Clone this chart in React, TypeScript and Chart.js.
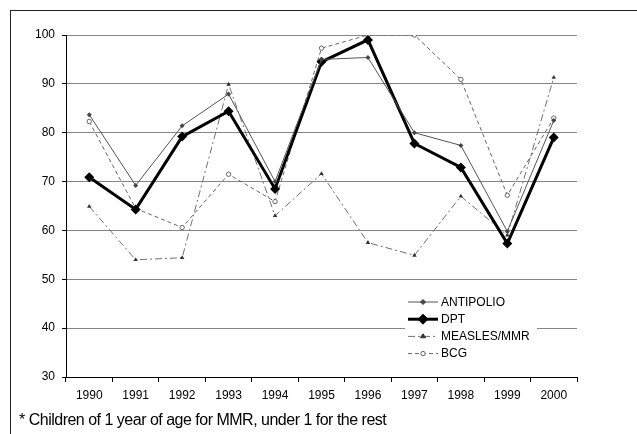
import React, { useEffect, useRef } from "react";
import { Chart, registerables } from "chart.js";

Chart.register(...registerables);

const years = ["1990", "1991", "1992", "1993", "1994", "1995", "1996", "1997", "1998", "1999", "2000"];
const antipolio = [83.7, 69.2, 81.4, 87.9, 70.0, 95.0, 95.4, 80.0, 77.4, 59.8, 82.5];
const dpt = [70.9, 64.3, 79.2, 84.4, 68.5, 94.5, 99.0, 77.8, 72.9, 57.3, 79.0];
const measles = [64.9, 54.0, 54.4, 89.9, 63.0, 71.6, 57.5, 54.9, 67.0, 59.0, 91.3];
const bcg = [82.3, 64.5, 60.6, 71.5, 65.9, 97.3, 100, 100, 90.9, 67.2, 83.0];
const seriesNames = ["ANTIPOLIO", "DPT", "MEASLES/MMR", "BCG"];
const footnote = "* Children of 1 year of age for MMR, under 1 for the rest";

const FONT = "'Liberation Sans', Arial, sans-serif";

function drawMarker(ctx: CanvasRenderingContext2D, style: string, x: number, y: number, r: number, fill: string, stroke: string) {
  ctx.save();
  ctx.setLineDash([]);
  ctx.beginPath();
  if (style === "rectRot") {
    ctx.moveTo(x, y - r);
    ctx.lineTo(x + r, y);
    ctx.lineTo(x, y + r);
    ctx.lineTo(x - r, y);
    ctx.closePath();
  } else if (style === "triangle") {
    const h = r * 1.5;
    ctx.moveTo(x, y - h * 0.66);
    ctx.lineTo(x + r, y + h * 0.34);
    ctx.lineTo(x - r, y + h * 0.34);
    ctx.closePath();
  } else {
    ctx.arc(x, y, r, 0, Math.PI * 2);
  }
  ctx.fillStyle = fill;
  ctx.fill();
  ctx.lineWidth = 1;
  ctx.strokeStyle = stroke;
  ctx.stroke();
  ctx.restore();
}

const legendPlugin = {
  id: "insideLegend",
  afterDraw(chart: any) {
    const ctx = chart.ctx as CanvasRenderingContext2D;
    const area = chart.chartArea;
    const boxX = area.left + 339;
    const boxY = area.top + 255;
    ctx.save();
    ctx.fillStyle = "#fff";
    ctx.fillRect(boxX, boxY, 132, 78);
    const x0 = area.left + 342;
    const rowY0 = area.top + 267;
    chart.data.datasets.forEach((ds: any, i: number) => {
      const y = rowY0 + i * 17.2;
      ctx.save();
      ctx.beginPath();
      ctx.setLineDash(ds.borderDash || []);
      ctx.lineWidth = ds.borderWidth;
      ctx.strokeStyle = ds.borderColor;
      ctx.moveTo(x0, y);
      ctx.lineTo(x0 + 30, y);
      ctx.stroke();
      ctx.restore();
      drawMarker(ctx, ds.pointStyle, x0 + 15, y, ds.pointRadius, ds.pointBackgroundColor, ds.pointBorderColor);
      ctx.fillStyle = "#000";
      ctx.font = `12px ${FONT}`;
      ctx.textBaseline = "middle";
      ctx.textAlign = "left";
      ctx.fillText(ds.label, x0 + 33, y + 0.5);
    });
    ctx.restore();
  },
};

export default function App() {
  const ref = useRef<HTMLCanvasElement | null>(null);
  useEffect(() => {
    if (!ref.current) return;
    const chart = new Chart(ref.current, {
      type: "line",
      data: {
        labels: years,
        datasets: [
          {
            label: seriesNames[0],
            data: antipolio,
            borderColor: "#555",
            borderWidth: 1,
            pointStyle: "rectRot",
            pointRadius: 2.5,
            pointBackgroundColor: "#444",
            pointBorderColor: "#444",
            pointBorderWidth: 0,
            tension: 0,
          } as any,
          {
            label: seriesNames[1],
            data: dpt,
            borderColor: "#000",
            borderWidth: 3,
            pointStyle: "rectRot",
            pointRadius: 5,
            pointBackgroundColor: "#000",
            pointBorderColor: "#000",
            pointBorderWidth: 0,
            tension: 0,
          },
          {
            label: seriesNames[2],
            data: measles,
            borderColor: "#707070",
            borderWidth: 1,
            borderDash: [7, 3, 2, 3],
            pointStyle: "triangle",
            pointRadius: 2.6,
            pointBackgroundColor: "#333",
            pointBorderColor: "#333",
            pointBorderWidth: 0,
            tension: 0,
          },
          {
            label: seriesNames[3],
            data: bcg,
            borderColor: "#666",
            borderWidth: 1,
            borderDash: [4, 3],
            pointStyle: "circle",
            pointRadius: 2.2,
            pointBackgroundColor: "#fff",
            pointBorderColor: "#666",
            pointBorderWidth: 1,
            tension: 0,
          },
        ],
      },
      options: {
        responsive: false,
        animation: false,
        events: [],
        layout: { padding: { top: 35, right: 60, left: 0, bottom: 0 } },
        plugins: {
          legend: { display: false },
          tooltip: { enabled: false },
          title: { display: false },
        },
        scales: {
          x: {
            offset: true,
            grid: {
              offset: true,
              drawOnChartArea: false,
              drawTicks: true,
              tickLength: 5,
              tickColor: "#000",
            },
            border: { display: true, color: "#000", width: 1 },
            ticks: {
              color: "#000",
              font: { family: FONT, size: 12 },
              padding: 6,
              maxRotation: 0,
              autoSkip: false,
            },
            afterFit: (s: any) => {
              s.height = 57;
            },
          },
          y: {
            min: 30,
            max: 100,
            grid: {
              color: "#858585",
              lineWidth: 1,
              drawTicks: true,
              tickLength: 4,
              tickColor: "#000",
            },
            border: { display: true, color: "#000", width: 1 },
            ticks: {
              stepSize: 10,
              color: "#000",
              font: { family: FONT, size: 12 },
              padding: 7,
            },
            afterFit: (s: any) => {
              s.width = 66;
            },
          },
        },
      },
      plugins: [legendPlugin],
    });
    return () => chart.destroy();
  }, []);

  return (
    <div style={{ position: "absolute", left: 0, top: 0, width: 637, height: 434, background: "#fff", overflow: "hidden" }}>
      <canvas ref={ref} width={637} height={434} style={{ position: "absolute", left: 0, top: 0 }} />
      <div
        style={{
          position: "absolute",
          left: 10,
          top: 10,
          width: 627,
          height: 424,
          borderLeft: "1px solid #222",
          borderTop: "1px solid #222",
          boxSizing: "border-box",
          pointerEvents: "none",
        }}
      />
      <div
        style={{
          position: "absolute",
          left: 19,
          top: 410,
          fontFamily: FONT,
          fontSize: 16,
          lineHeight: "20px",
          letterSpacing: "-0.5px",
          color: "#000",
          whiteSpace: "nowrap",
        }}
      >
        {footnote}
      </div>
    </div>
  );
}
